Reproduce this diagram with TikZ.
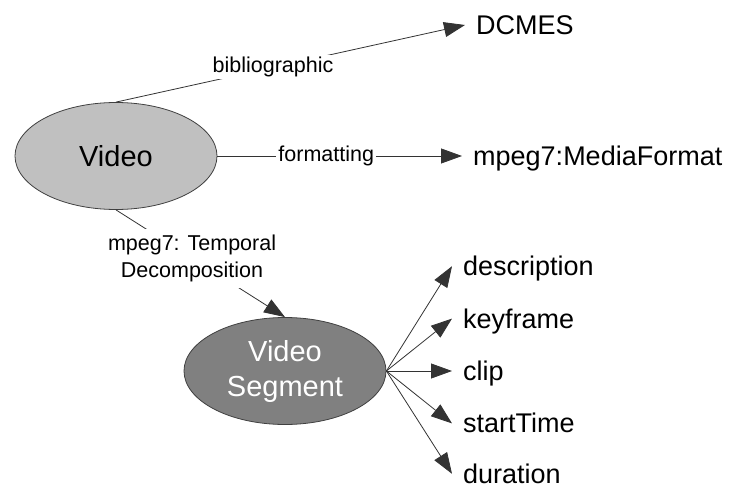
\documentclass[tikz,border=0pt]{standalone}
\usepackage{fontspec}
\setmainfont{Liberation Sans}
\usepackage{tikz}
\usetikzlibrary{positioning,shapes.geometric,arrows.meta}
\usepackage{color}
\definecolor{videogray}{RGB}{192,192,192}
\definecolor{seggray}{RGB}{128,128,128}

\begin{document}
\begin{tikzpicture}[x=1pt,y=-1pt,>={Triangle[length=21pt,width=15pt]}]

\tikzstyle{class}=[ellipse,draw=black!75,line width=0.8pt,minimum width=202pt,minimum height=107pt,inner sep=0pt,align=center,font=\fontsize{29}{35}\selectfont]
\tikzstyle{prop}=[fill=white,inner sep=2pt,align=center,font=\fontsize{21.5}{27}\selectfont]
\tikzstyle{leaf}=[anchor=west,inner xsep=11pt,inner ysep=0pt,text height=19pt,text depth=0pt,font=\fontsize{27}{32}\selectfont]
\tikzstyle{conn}=[draw=black!80,line width=0.8pt]

    \useasboundingbox (0,0) rectangle (738,489);

    \node[class,fill=videogray] (video) at (116,156) {Video};
    \node[class,fill=seggray,text=white] (seg) at (285,371) {Video\\Segment};

    \node[leaf] (dcmes) at (465,25) {DCMES};
    \node[leaf] (format) at (462,156) {mpeg7:MediaFormat};

    \node[leaf] (clip) at (452,371) {clip};
    \node[leaf,above=33pt of clip.north west,anchor=south west] (key) {keyframe};
    \node[leaf,above=33pt of key.north west,anchor=south west] (desc) {description};
    \node[leaf,below=33pt of clip.south west,anchor=north west] (start) {startTime};
    \node[leaf,below=31pt of start.south west,anchor=north west] (dur) {duration};

\path
    (video.north) edge[conn,->] node[prop,pos=.45]{bibliographic} (dcmes.west)
    (video.east) edge[conn,->] node[prop,pos=.445]{formatting} (format.west)
    (video.south) edge[conn,->] node[prop,pos=.45,inner sep=6pt]{mpeg7: Temporal\\Decomposition} (seg.north);

\foreach \n in {desc,key,clip,start,dur}
    \draw[conn,->] (seg.east) -- (\n.west);
\end{tikzpicture}
\end{document}
